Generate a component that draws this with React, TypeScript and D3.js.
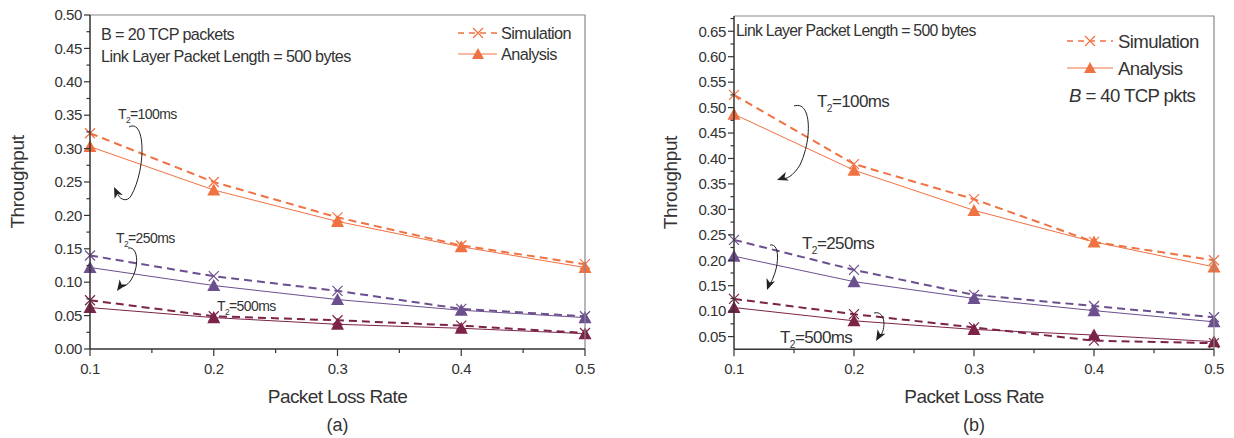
import React from "react";
import * as d3 from "d3";

const lossRates = [0.1, 0.2, 0.3, 0.4, 0.5];

// Panel (a) B = 20
const simA100 = [0.323, 0.25, 0.197, 0.155, 0.127];
const anaA100 = [0.303, 0.238, 0.191, 0.153, 0.122];
const simA250 = [0.14, 0.109, 0.087, 0.06, 0.049];
const anaA250 = [0.122, 0.095, 0.074, 0.058, 0.047];
const simA500 = [0.073, 0.049, 0.043, 0.035, 0.024];
const anaA500 = [0.062, 0.047, 0.037, 0.031, 0.023];

// Panel (b) B = 40
const simB100 = [0.525, 0.389, 0.32, 0.236, 0.2];
const anaB100 = [0.487, 0.377, 0.298, 0.236, 0.187];
const simB250 = [0.24, 0.181, 0.132, 0.11, 0.088];
const anaB250 = [0.208, 0.158, 0.125, 0.101, 0.079];
const simB500 = [0.124, 0.094, 0.068, 0.042, 0.037];
const anaB500 = [0.107, 0.081, 0.064, 0.053, 0.04];

const xTicks = [0.1, 0.2, 0.3, 0.4, 0.5];
const yTicksA = [0, 0.05, 0.1, 0.15, 0.2, 0.25, 0.3, 0.35, 0.4, 0.45, 0.5];
const yTicksB = [0.05, 0.1, 0.15, 0.2, 0.25, 0.3, 0.35, 0.4, 0.45, 0.5, 0.55, 0.6, 0.65];

const ORANGE = "#F07242";
const PURPLE = "#6C4F8E";
const MAROON = "#7C2348";
const TXT = "#333";
const FONT = "'Liberation Sans', Arial, sans-serif";

function Cross({ x, y, c }: { x: number; y: number; c: string }) {
  const s = 5;
  return (
    <path d={`M${x - s},${y - s}L${x + s},${y + s}M${x - s},${y + s}L${x + s},${y - s}`} stroke={c} strokeWidth={1.2} fill="none" />
  );
}
function Tri({ x, y, c, s = 6.5 }: { x: number; y: number; c: string; s?: number }) {
  return <path d={`M${x},${y - s}L${x + s},${y + s * 0.85}L${x - s},${y + s * 0.85}Z`} fill={c} />;
}

function Label({ x, y, size, ms }: { x: number; y: number; size: number; ms: string }) {
  return (
    <text x={x} y={y} fontSize={size} fill={TXT} fontFamily={FONT} letterSpacing={-0.6}>
      T<tspan fontSize={size * 0.6} dy={size * 0.3}>2</tspan>
      <tspan dy={-size * 0.3}>={ms}</tspan>
    </text>
  );
}

function Arrow({ d, tip, angle }: { d: string; tip: [number, number]; angle: number }) {
  const [tx, ty] = tip;
  return (
    <g>
      <path d={d} fill="none" stroke="#222" strokeWidth={1} />
      <path d="M0,0L-11,-4.5L-8,0L-11,4.5Z" fill="#222" transform={`translate(${tx},${ty}) rotate(${angle})`} />
    </g>
  );
}

type Series = { sim: number[]; ana: number[]; color: string };

function Panel(props: {
  left: number;
  right: number;
  top: number;
  bottom: number;
  yDomain: [number, number];
  yTicks: number[];
  yMinor: number[];
  series: Series[];
  children?: React.ReactNode;
  axisLabelX: number;
  sub: string;
}) {
  const { left, right, top, bottom, yDomain, yTicks, yMinor, series } = props;
  const x = d3.scaleLinear().domain([0.1, 0.5]).range([left, right]);
  const y = d3.scaleLinear().domain(yDomain).range([bottom, top]);
  const xMinor = [0.15, 0.25, 0.35, 0.45];
  const line = d3
    .line<number>()
    .x((_, i) => x(lossRates[i]))
    .y((d) => y(d));
  const cx = (left + right) / 2;
  return (
    <g>
      {series.map((s, k) => (
        <g key={k}>
          <path d={line(s.ana) || ""} fill="none" stroke={s.color} strokeWidth={1} />
          <path d={line(s.sim) || ""} fill="none" stroke={s.color} strokeWidth={2} strokeDasharray="8,5" />
          {s.ana.map((v, i) => (
            <Tri key={"a" + i} x={x(lossRates[i])} y={y(v)} c={s.color} />
          ))}
          {s.sim.map((v, i) => (
            <Cross key={"s" + i} x={x(lossRates[i])} y={y(v)} c={s.color} />
          ))}
        </g>
      ))}
      {/* frame */}
      <path d={`M${left},${top}H${right}V${bottom}`} fill="none" stroke="#888" strokeWidth={1.2} />
      <line x1={left} x2={left} y1={top} y2={bottom} stroke={TXT} strokeWidth={1.5} />
      <line x1={left} x2={right} y1={bottom} y2={bottom} stroke={TXT} strokeWidth={1.5} />
      {yTicks.map((t) => (
        <g key={t}>
          <line x1={left - 6} x2={left} y1={y(t)} y2={y(t)} stroke={TXT} strokeWidth={1.2} />
          <text x={left - 8} y={y(t)} dy="0.35em" textAnchor="end" fontSize={15} fill={TXT} fontFamily={FONT} letterSpacing={-0.4}>
            {d3.format(".2f")(t)}
          </text>
        </g>
      ))}
      {yMinor.map((t) => (
        <line key={t} x1={left - 3.5} x2={left} y1={y(t)} y2={y(t)} stroke={TXT} strokeWidth={1.2} />
      ))}
      {xTicks.map((t) => (
        <g key={t}>
          <line x1={x(t)} x2={x(t)} y1={bottom} y2={bottom + 7} stroke={TXT} strokeWidth={1.2} />
          <text x={x(t)} y={bottom + 25} textAnchor="middle" fontSize={15} fill={TXT} fontFamily={FONT} letterSpacing={-0.4}>
            {d3.format(".1f")(t)}
          </text>
        </g>
      ))}
      {xMinor.map((t) => (
        <line key={t} x1={x(t)} x2={x(t)} y1={bottom} y2={bottom + 4} stroke={TXT} strokeWidth={1.2} />
      ))}
      <text x={cx} y={403} textAnchor="middle" fontSize={19} fill={TXT} fontFamily={FONT} letterSpacing={-0.6}>
        Packet Loss Rate
      </text>
      <text x={cx} y={431} textAnchor="middle" fontSize={18} fill={TXT} fontFamily={FONT}>
        {props.sub}
      </text>
      <text
        transform={`translate(${props.axisLabelX},${(top + bottom) / 2}) rotate(-90)`}
        textAnchor="middle"
        fontSize={19}
        fill={TXT}
        fontFamily={FONT}
        letterSpacing={-0.4}
      >
        Throughput
      </text>
      {props.children}
    </g>
  );
}

export default function App() {
  const minorA = d3.range(0.025, 0.5, 0.05);
  const minorB = d3.range(0.075, 0.68, 0.05);
  return (
    <svg width={1234} height={438} style={{ position: "absolute", left: 0, top: 0, background: "#fff" }}>
      <rect width={1234} height={438} fill="#fff" />
      <Panel
        left={90}
        right={585}
        top={15}
        bottom={349}
        yDomain={[0, 0.5]}
        yTicks={yTicksA}
        yMinor={minorA}
        axisLabelX={24}
        sub="(a)"
        series={[
          { sim: simA100, ana: anaA100, color: ORANGE },
          { sim: simA250, ana: anaA250, color: PURPLE },
          { sim: simA500, ana: anaA500, color: MAROON },
        ]}
      >
        <text x={101} y={40} fontSize={16.2} fill={TXT} fontFamily={FONT} letterSpacing={-0.6}>
          B = 20 TCP packets
        </text>
        <text x={101} y={62} fontSize={16.2} fill={TXT} fontFamily={FONT} letterSpacing={-0.6}>
          Link Layer Packet Length = 500 bytes
        </text>
        {/* legend */}
        <line x1={458} x2={497} y1={33} y2={33} stroke={ORANGE} strokeWidth={1.5} strokeDasharray="6,5" />
        <Cross x={478} y={33} c={ORANGE} />
        <text x={501} y={38.5} fontSize={16.3} fill={TXT} fontFamily={FONT} letterSpacing={-0.6}>
          Simulation
        </text>
        <line x1={458} x2={497} y1={54} y2={54} stroke={ORANGE} strokeWidth={1} />
        <Tri x={478} y={54} c={ORANGE} s={6} />
        <text x={501} y={60} fontSize={16.3} fill={TXT} fontFamily={FONT} letterSpacing={-0.6}>
          Analysis
        </text>
        <Label x={118} y={119} size={14} ms="100ms" />
        <Label x={116} y={243} size={14} ms="250ms" />
        <Label x={217} y={311} size={14} ms="500ms" />
        <Arrow d="M129,127 C146,118 146,170 131,196 C127,202 121,200 118,195" tip={[114, 187]} angle={-115} />
        <Arrow d="M128,248 C139,246 139,268 131,280 C127,286 122,288 120,285" tip={[117, 291]} angle={125} />
      </Panel>
      <Panel
        left={734}
        right={1214}
        top={16}
        bottom={349.3}
        yDomain={[0.025, 0.68]}
        yTicks={yTicksB}
        yMinor={minorB}
        axisLabelX={677}
        sub="(b)"
        series={[
          { sim: simB100, ana: anaB100, color: ORANGE },
          { sim: simB250, ana: anaB250, color: PURPLE },
          { sim: simB500, ana: anaB500, color: MAROON },
        ]}
      >
        <text x={736} y={36} fontSize={15.8} fill={TXT} fontFamily={FONT} letterSpacing={-0.7}>
          Link Layer Packet Length = 500 bytes
        </text>
        <line x1={1067} x2={1113} y1={41} y2={41} stroke={ORANGE} strokeWidth={1.5} strokeDasharray="6,5" />
        <Cross x={1090} y={41} c={ORANGE} />
        <text x={1118} y={47.5} fontSize={18.6} fill={TXT} fontFamily={FONT} letterSpacing={-0.6}>
          Simulation
        </text>
        <line x1={1067} x2={1113} y1={68} y2={68} stroke={ORANGE} strokeWidth={1} />
        <Tri x={1090} y={68} c={ORANGE} s={6} />
        <text x={1118} y={74.5} fontSize={18.6} fill={TXT} fontFamily={FONT} letterSpacing={-0.6}>
          Analysis
        </text>
        <text x={1069} y={101.5} fontSize={18.6} fill={TXT} fontFamily={FONT} letterSpacing={-0.6}>
          <tspan fontStyle="italic">B</tspan> = 40 TCP pkts
        </text>
        <Label x={817} y={107} size={17} ms="100ms" />
        <Label x={802} y={249} size={17} ms="250ms" />
        <Label x={780} y={343} size={17} ms="500ms" />
        <Arrow d="M794,106 C812,100 812,140 800,165 C793,176 786,180 782,178" tip={[777, 180]} angle={160} />
        <Arrow d="M770,245 C780,243 779,265 773,278 C771,283 769,285 768,286" tip={[767, 290]} angle={110} />
        <Arrow d="M874,313 C886,310 886,330 880,336 C879,338 878,339 877,339" tip={[876, 341]} angle={120} />
      </Panel>
    </svg>
  );
}
